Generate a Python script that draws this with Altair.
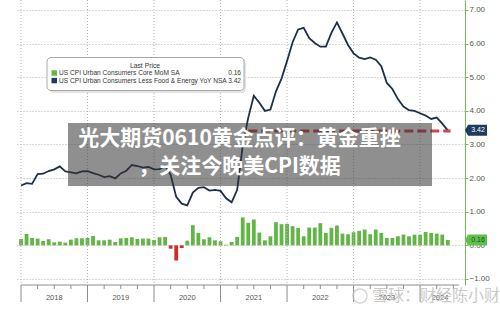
import altair as alt
import pandas as pd

# ---------------- data ----------------
month_labels = pd.period_range("2017-12", "2024-05", freq="M").strftime("%Y-%m").tolist()

core_mom = [0.19,
    0.34, 0.22, 0.20, 0.13, 0.18, 0.09, 0.11, 0.08, 0.17, 0.21, 0.21, 0.22,
    0.28, 0.15, 0.15, 0.17, 0.10, 0.21, 0.22, 0.24, 0.19, 0.20, 0.20, 0.16,
    0.24, 0.25, -0.10, -0.45, -0.08, 0.14, 0.60, 0.37, 0.18, 0.24, 0.15, 0.12,
    0.02, 0.10, 0.25, 0.83, 0.67, 0.77, 0.38, 0.15, 0.27, 0.69, 0.63, 0.64,
    0.57, 0.52, 0.27, 0.53, 0.53, 0.66, 0.37, 0.52, 0.59, 0.35, 0.33, 0.39,
    0.43, 0.47, 0.33, 0.47, 0.37, 0.22, 0.22, 0.27, 0.32, 0.27, 0.32, 0.31,
    0.40, 0.37, 0.35, 0.32, 0.16]

core_yoy = [1.78,
    1.85, 1.83, 2.12, 2.13, 2.21, 2.26, 2.35, 2.20, 2.17, 2.14, 2.20, 2.21,
    2.15, 2.10, 2.03, 2.06, 1.99, 2.14, 2.22, 2.39, 2.36, 2.31, 2.33, 2.26,
    2.27, 2.37, 2.10, 1.44, 1.24, 1.19, 1.57, 1.71, 1.73, 1.63, 1.65, 1.62,
    1.40, 1.28, 1.65, 2.96, 3.80, 4.45, 4.24, 4.00, 4.04, 4.58, 4.96, 5.48,
    6.04, 6.42, 6.47, 6.16, 6.02, 5.91, 5.91, 6.32, 6.63, 6.30, 5.96, 5.71,
    5.58, 5.54, 5.59, 5.52, 5.33, 4.83, 4.65, 4.35, 4.13, 4.02, 4.00, 3.93,
    3.86, 3.76, 3.80, 3.62, 3.42]

year_labels = ["2018", "2019", "2020", "2021", "2022", "2023", "2024"]
year_start_pos = [0, 12, 24, 36, 48, 60, 72]
year_label_pos = [6, 18, 30, 42, 54, 66, 75.6]
quarter_pos = [3, 6, 9, 15, 18, 21, 27, 30, 33, 39, 42, 45, 51, 54, 57,
               63, 66, 69, 75, 78]
y_ticks = [-1, 0, 1, 2, 3, 4, 5, 6, 7]
x_end = 79.2

legend_names = ["US CPI Urban Consumers Core MoM SA",
                "US CPI Urban Consumers Less Food & Energy YoY NSA"]
legend_values = ["0.16", "3.42"]
last_mom = 0.16
last_yoy = 3.42
ref_level = 3.40
ref_start, ref_end = 41, 77.5

title_lines = ["光大期货0610黄金点评：黄金重挫", "，关注今晚美CPI数据"]
watermark = "雪球：财经陈小财"

# ---------------- styling ----------------
GREEN = "#62b546"
RED = "#d42a25"
NAVY = "#1d3049"
TAG_NAVY = "#1f3a5f"
TAG_GREEN = "#5ec24a"
AXIS_GREEN = "#72bb55"
GRID = "#b3b3b3"

W, H = 449, 285
xs = alt.Scale(domain=[0, x_end], nice=False, zero=False)
ys = alt.Scale(domain=[-1.179, 7.297], nice=False, zero=False)
yaxis = alt.Axis(orient="right", values=y_ticks, format=".2f", title=None,
                 grid=True, gridDash=[1, 2], gridColor=GRID, gridWidth=1,
                 domainColor=AXIS_GREEN, domainWidth=1, tickColor=AXIS_GREEN,
                 tickSize=3, labelFontSize=8, labelColor="#555555",
                 labelFont="Liberation Sans", labelPadding=1)

def Y(field):
    return alt.Y(field, type="quantitative", scale=ys, axis=yaxis)

df = pd.DataFrame({"month": month_labels, "pos": list(range(len(month_labels))),
                   "mom": core_mom, "yoy": core_yoy})
df["sign"] = ["neg" if v < 0 else "pos" for v in core_mom]

years_df = pd.DataFrame({"pos": year_start_pos, "label": year_labels,
                         "lpos": year_label_pos})
q_df = pd.DataFrame({"pos": quarter_pos})

bars = alt.Chart(df).mark_bar(width=3.8).encode(
    x=alt.X("pos:Q", scale=xs, axis=None),
    y=Y("mom"),
    y2=alt.datum(0),
    color=alt.condition(alt.datum.mom < 0, alt.value(RED), alt.value(GREEN)),
)

vgrid = alt.Chart(years_df).mark_rule(strokeDash=[1, 2], color=GRID, strokeWidth=1).encode(
    x=alt.X("pos:Q", scale=xs, axis=None), y=alt.value(0), y2=alt.value(H))

line = alt.Chart(df).mark_line(color=NAVY, strokeWidth=1.8).encode(
    x=alt.X("pos:Q", scale=xs, axis=None), y=Y("yoy"))

ref_df = pd.DataFrame({"a": [ref_start], "b": [ref_end], "v": [ref_level]})
ref = alt.Chart(ref_df).mark_rule(color="#cf4447", strokeWidth=3, strokeDash=[9, 4]).encode(
    x=alt.X("a:Q", scale=xs, axis=None), x2="b:Q", y=Y("v"))

axis_df = pd.DataFrame({"a": [0], "b": [x_end - 0.2]})
xaxis_line = alt.Chart(axis_df).mark_rule(color="#8c8c8c", strokeWidth=1).encode(
    x=alt.X("a:Q", scale=xs, axis=None), x2="b:Q", y=alt.value(H))
year_sep = alt.Chart(years_df).mark_rule(color="#8c8c8c", strokeWidth=1).encode(
    x=alt.X("pos:Q", scale=xs, axis=None), y=alt.value(H), y2=alt.value(302))
q_ticks = alt.Chart(q_df).mark_rule(color="#8c8c8c", strokeWidth=1).encode(
    x=alt.X("pos:Q", scale=xs, axis=None), y=alt.value(H), y2=alt.value(289))
year_text = alt.Chart(years_df).mark_text(fontSize=7.5, color="#555555",
                                          font="Liberation Sans", baseline="middle").encode(
    x=alt.X("lpos:Q", scale=xs, axis=None), y=alt.value(298), text="label:N")

# value tags on the right axis
tag_path = "M-1,0L-0.72,-0.5L1,-0.5L1,0.5L-0.72,0.5Z"
tag_layers = []
for val, txt, fill, tcol in [(last_yoy, "3.42", TAG_NAVY, "#ffffff"),
                             (last_mom, "0.16", TAG_GREEN, "#23402a")]:
    tdf = pd.DataFrame({"v": [val], "t": [txt]})
    tag_layers.append(alt.Chart(tdf).mark_point(
        shape=tag_path, filled=True, opacity=1, size=484, color=fill).encode(
        x=alt.value(460), y=Y("v")))
    tag_layers.append(alt.Chart(tdf).mark_text(
        fontSize=7, font="Liberation Sans", baseline="middle", align="center",
        color=tcol).encode(x=alt.value(462), y=Y("v"), text="t:N"))

# legend box
leg_shadow = alt.Chart(pd.DataFrame({"a": [0]})).mark_rect(
    fill="#e4e4e4", cornerRadius=4).encode(
    x=alt.value(33), x2=alt.value(230), y=alt.value(59), y2=alt.value(93))
leg_box = alt.Chart(pd.DataFrame({"a": [0]})).mark_rect(
    fill="white", stroke="#a8a8a8", strokeWidth=1, cornerRadius=4).encode(
    x=alt.value(31), x2=alt.value(228), y=alt.value(57.5), y2=alt.value(90.5))
leg_title = alt.Chart(pd.DataFrame({"t": ["Last Price"]})).mark_text(
    fontSize=6.8, font="Liberation Sans", color="#333333", baseline="middle").encode(
    x=alt.value(129), y=alt.value(65.5), text="t:N")
leg_rows = []
for i, (nm, vv, cc) in enumerate(zip(legend_names, legend_values, [GREEN, TAG_NAVY])):
    yy = 73 + 7.6 * i
    one = pd.DataFrame({"name": [nm], "val": [vv]})
    leg_rows.append(alt.Chart(one).mark_rect(fill=cc).encode(
        x=alt.value(35.5), x2=alt.value(41), y=alt.value(yy - 2.7), y2=alt.value(yy + 2.7)))
    leg_rows.append(alt.Chart(one).mark_text(fontSize=6.6, font="Liberation Sans", color="#333333",
                                             align="left", baseline="middle").encode(
        x=alt.value(43), y=alt.value(yy), text="name:N"))
    leg_rows.append(alt.Chart(one).mark_text(fontSize=6.6, font="Liberation Sans", color="#333333",
                                             align="right", baseline="middle").encode(
        x=alt.value(225), y=alt.value(yy), text="val:N"))

# title overlay
ov_box = alt.Chart(pd.DataFrame({"a": [0]})).mark_rect(fill="#333333", opacity=0.55).encode(
    x=alt.value(52), x2=alt.value(416), y=alt.value(123), y2=alt.value(186))
ov_df = pd.DataFrame({"t": title_lines, "yy": [138.5, 166.5]})
ov_text = alt.Chart(ov_df).mark_text(fontSize=21, font="Noto Sans CJK SC", fontWeight="bold",
                                     color="white", baseline="middle", align="center").encode(
    x=alt.value(223.5), y=alt.Y("yy:Q", scale=None), text="t:N")

# watermark
wm_logo = alt.Chart(pd.DataFrame({"a": [0]})).mark_point(
    shape="circle", size=200, filled=False, stroke="#c4c4c4", strokeWidth=1.5).encode(
    x=alt.value(344), y=alt.value(296))
wm_text = alt.Chart(pd.DataFrame({"t": [watermark]})).mark_text(
    fontSize=16, font="Noto Sans CJK SC", color="#c4c4c4", baseline="middle",
    align="left", opacity=0.9).encode(
    x=alt.value(356), y=alt.value(296), text="t:N")

chart = alt.layer(
    bars, vgrid, line, ref, xaxis_line, year_sep, q_ticks, year_text,
    *tag_layers, leg_shadow, leg_box, leg_title, *leg_rows,
    ov_box, ov_text, wm_logo, wm_text
).properties(
    width=W, height=H,
    padding={"left": 16, "right": 35, "top": 0, "bottom": 25},
    autosize=alt.AutoSizeParams(type="none"),
    background="white",
).configure_view(stroke=None)

chart.save("out.html", embed_options={"renderer": "svg", "actions": False})
